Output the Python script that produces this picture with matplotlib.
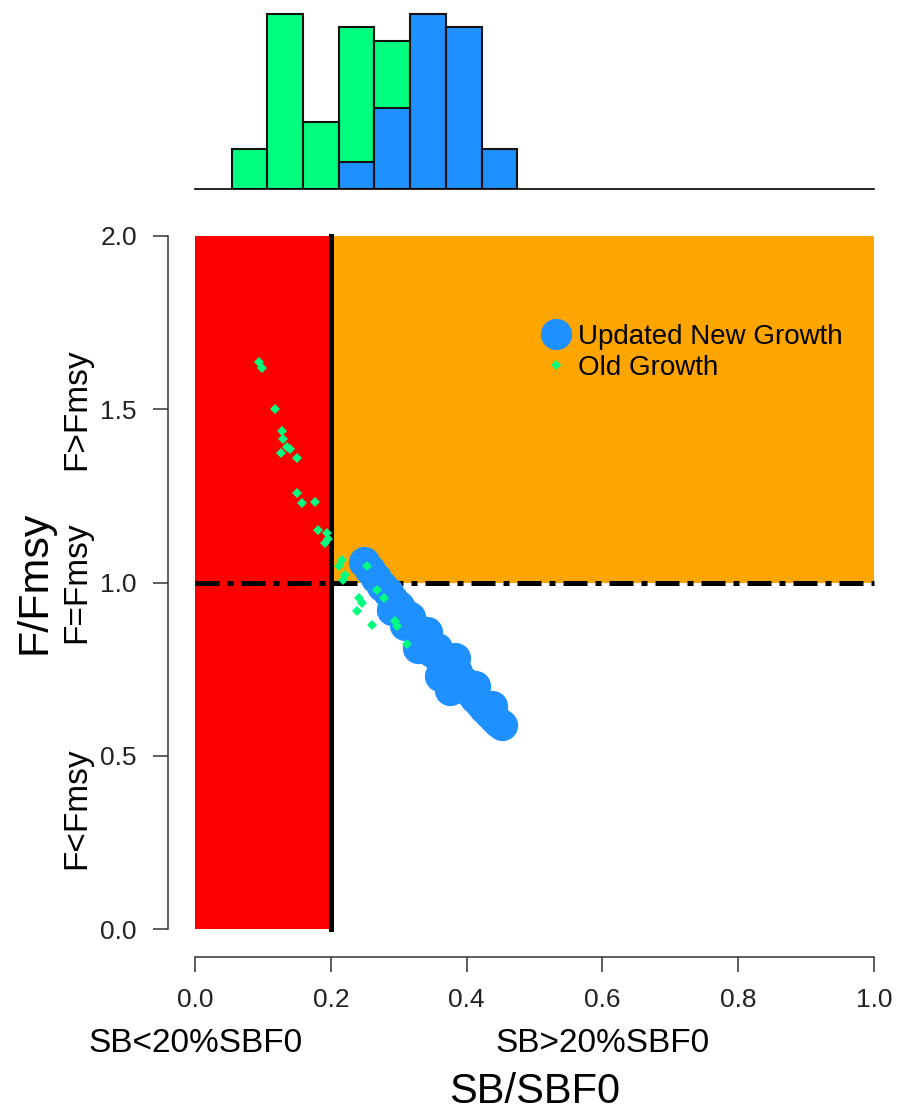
import numpy as np
import matplotlib.pyplot as plt
from matplotlib.lines import Line2D
from matplotlib.patches import Rectangle

plt.rcParams['font.family'] = ['Liberation Sans', 'DejaVu Sans']

# Kobe-style points: SB/SBF0 vs F/Fmsy
new_x = [0.249, 0.258, 0.267, 0.275, 0.284, 0.292, 0.300, 0.308, 0.317, 0.323,
         0.330, 0.336, 0.343, 0.349, 0.356, 0.361, 0.368, 0.374, 0.380, 0.386,
         0.392, 0.399, 0.405, 0.412, 0.420, 0.426, 0.433, 0.440, 0.446, 0.452,
         0.342, 0.328, 0.376, 0.361, 0.309, 0.290, 0.383, 0.412, 0.437]
new_y = [1.059, 1.036, 1.013, 0.990, 0.973, 0.949, 0.932, 0.912, 0.900, 0.874,
         0.854, 0.831, 0.817, 0.799, 0.811, 0.776, 0.759, 0.739, 0.719, 0.742,
         0.701, 0.710, 0.684, 0.667, 0.652, 0.638, 0.623, 0.609, 0.597, 0.589,
         0.857, 0.811, 0.690, 0.730, 0.877, 0.921, 0.782, 0.701, 0.644]

old_x = [0.094, 0.099, 0.118, 0.128, 0.130, 0.135, 0.127, 0.140, 0.150, 0.150,
         0.158, 0.177, 0.181, 0.194, 0.196, 0.191, 0.216, 0.212, 0.221, 0.218,
         0.253, 0.242, 0.246, 0.239, 0.261, 0.268, 0.278, 0.295, 0.297, 0.312]
old_y = [1.636, 1.619, 1.501, 1.437, 1.414, 1.391, 1.374, 1.385, 1.359, 1.258,
         1.229, 1.232, 1.152, 1.143, 1.126, 1.114, 1.065, 1.048, 1.022, 1.007,
         1.048, 0.955, 0.941, 0.918, 0.877, 0.978, 0.955, 0.889, 0.874, 0.823]

# histogram counts on top (old drawn first, new overlaid)
old_edges = [0.05, 0.10, 0.15, 0.20, 0.25, 0.30]
old_counts = [3, 13, 5, 12, 11]
new_edges = [0.20, 0.25, 0.30, 0.35, 0.40, 0.45]
new_counts = [2, 6, 13, 12, 3]

sb_lim = 0.2
f_lim = 1.0
x_ticks = [0.0, 0.2, 0.4, 0.6, 0.8, 1.0]
y_ticks = [0.0, 0.5, 1.0, 1.5, 2.0]

blue = '#1E90FF'
green = '#00FF7F'

W, H = 902, 1111
fig = plt.figure(figsize=(W / 100, H / 100), dpi=100)

# main panel
ax = fig.add_axes([168 / W, 1 - 957 / H, 733 / W, 749 / H])
ax.set_xlim(-0.04, 1.04)
ax.set_ylim(-0.08, 2.08)

ax.add_patch(Rectangle((0, 0), sb_lim, 2.0, facecolor='red', edgecolor='none', zorder=1))
ax.add_patch(Rectangle((sb_lim, f_lim), 1.0 - sb_lim, 1.0, facecolor='orange',
                       edgecolor='none', zorder=1))
ax.plot([sb_lim, sb_lim], [0, 2.0], color='black', lw=3.6, zorder=2)
ax.plot([0, 1.0], [f_lim, f_lim], color='black', lw=3.6, zorder=2,
        dashes=(4.8, 1.6, 1.2, 1.6), dash_capstyle='butt')

ax.plot(new_x, new_y, 'o', color=blue, ms=22.5, mew=0, ls='none', zorder=3)
ax.plot(old_x, old_y, 'D', color=green, ms=5.2, mew=0, ls='none', zorder=4)

for s in ['top', 'right']:
    ax.spines[s].set_visible(False)
ax.spines['left'].set_bounds(0, 2)
ax.spines['bottom'].set_bounds(0, 1)
for s in ['left', 'bottom']:
    ax.spines[s].set_linewidth(1.1)
    ax.spines[s].set_color('#333333')
ax.set_xticks(x_ticks)
ax.set_yticks(y_ticks)
ax.set_xticklabels([f'{v:.1f}' for v in x_ticks])
ax.set_yticklabels([f'{v:.1f}' for v in y_ticks])
ax.tick_params(axis='both', direction='out', length=10.5, width=1.1,
               color='#333333', labelsize=19, labelcolor='#222222')
ax.tick_params(axis='x', pad=12)
ax.tick_params(axis='y', pad=12)

# zone labels and axis titles
ax.text(0.0, -0.355, 'SB<20%SBF0', fontsize=24, ha='center', va='baseline', clip_on=False)
ax.text(0.6, -0.355, 'SB>20%SBF0', fontsize=24, ha='center', va='baseline', clip_on=False)
ax.text(0.5, -0.5, 'SB/SBF0', fontsize=30, ha='center', va='baseline', clip_on=False)
ax.text(-0.174, 1.5, 'F>Fmsy', fontsize=24, rotation=90, ha='center', va='center', clip_on=False)
ax.text(-0.174, 1.0, 'F=Fmsy', fontsize=24, rotation=90, ha='center', va='center', clip_on=False)
ax.text(-0.174, 0.35, 'F<Fmsy', fontsize=24, rotation=90, ha='center', va='center', clip_on=False)
ax.text(-0.236, 1.0, 'F/Fmsy', fontsize=31, rotation=90, ha='center', va='center', clip_on=False)

handles = [Line2D([], [], marker='o', color=blue, ms=22.5, mew=0, ls='none'),
           Line2D([], [], marker='D', color=green, ms=5.6, mew=0, ls='none')]
ax.legend(handles, ['Updated New Growth', 'Old Growth'], loc='upper left',
          bbox_to_anchor=(542 / W, 1 - 324 / H), bbox_transform=fig.transFigure,
          frameon=False, fontsize=20, handlelength=1.0, handletextpad=0.29,
          borderpad=0, borderaxespad=0, labelspacing=0.17)

# histogram panel
hx = fig.add_axes([195 / W, 1 - 189 / H, 679 / W, 189 / H])
hx.set_xlim(-0.0014, 0.9496)
hx.set_ylim(0, 14)
hx.bar(old_edges[:-1], old_counts, width=np.diff(old_edges), align='edge',
       color=green, edgecolor='#111111', lw=1.5)
hx.bar(new_edges[:-1], new_counts, width=np.diff(new_edges), align='edge',
       color=blue, edgecolor='#111111', lw=1.5)
hx.axhline(0, color='black', lw=1.2, clip_on=False)
hx.axis('off')

fig.savefig('out.png', dpi=100)
